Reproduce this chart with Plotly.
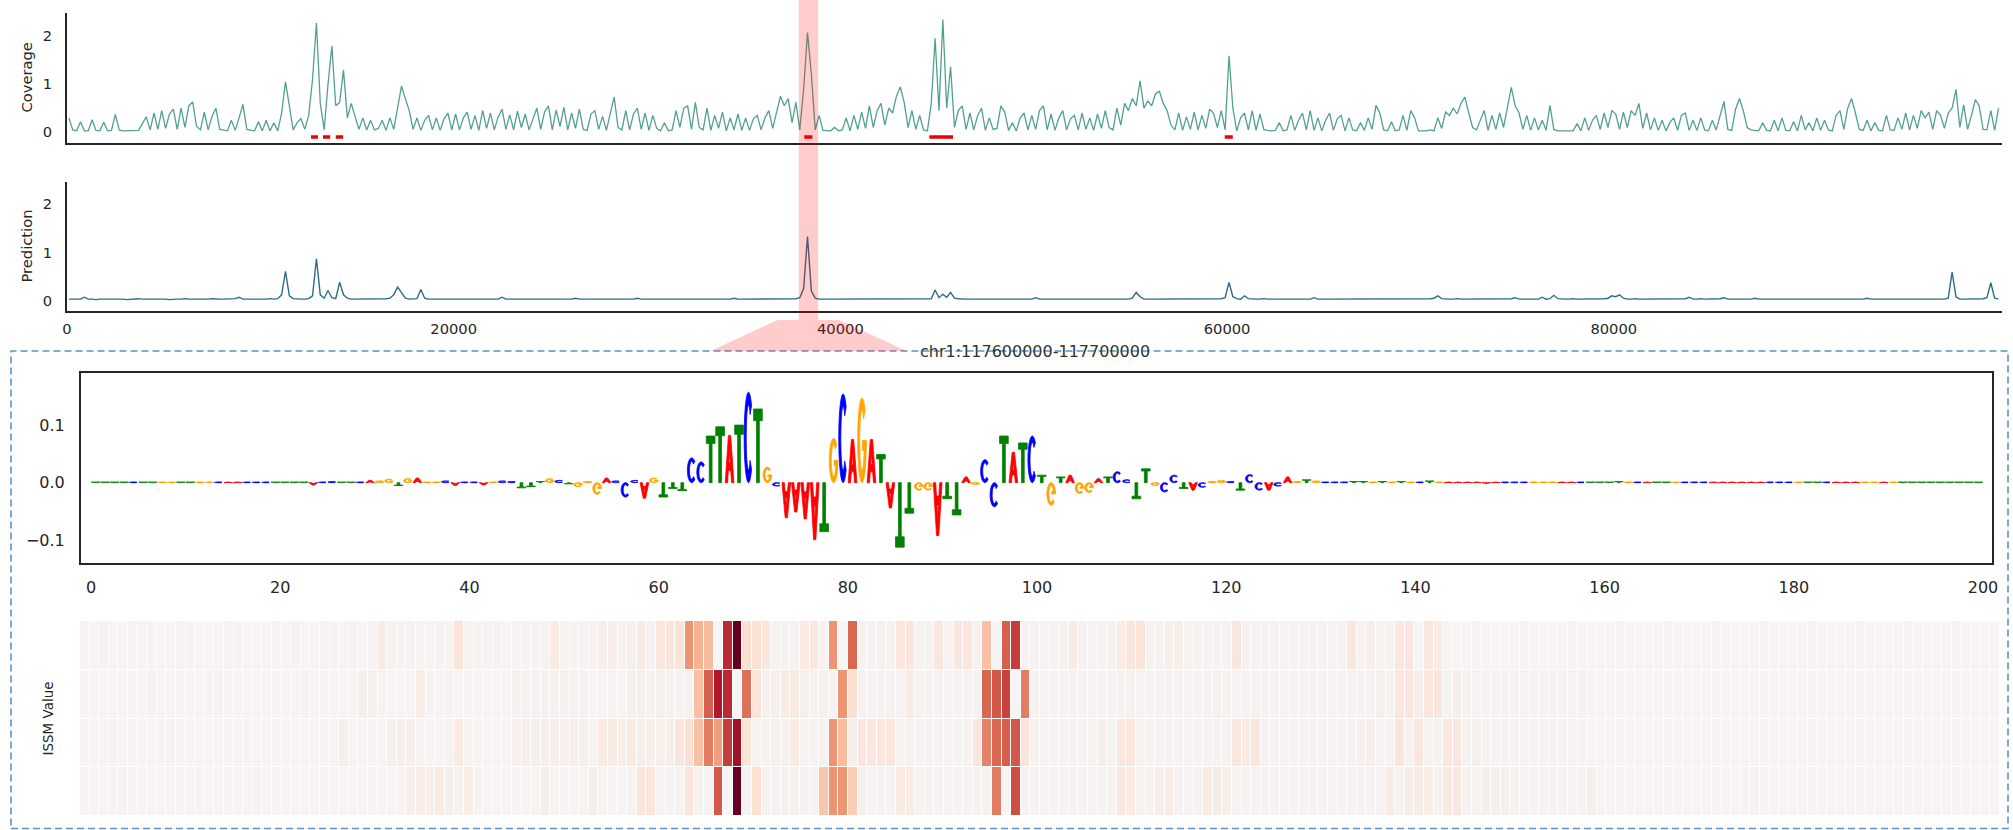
import numpy as np
import plotly.graph_objects as go

W, H = 2013, 830
FONT = "DejaVu Sans"
INK = "#262626"

# ---------------- data: genome tracks (200 bp bins over 100 kb) ----------------
BIN = 200
COVERAGE = [
    0.30,0.05,0.03,0.22,0.03,0.03,0.26,0.04,0.03,0.21,0.03,0.04,0.37,0.05,0.03,0.03,0.03,0.03,0.04,0.18,
    0.32,0.05,0.40,0.06,0.45,0.08,0.38,0.48,0.06,0.50,0.10,0.55,0.63,0.12,0.05,0.42,0.05,0.33,0.50,0.06,
    0.05,0.03,0.25,0.04,0.30,0.58,0.06,0.04,0.03,0.22,0.03,0.25,0.03,0.20,0.03,0.40,1.05,0.55,0.05,0.20,
    0.28,0.06,0.35,1.10,2.27,0.60,0.05,1.00,1.79,0.55,0.62,1.29,0.30,0.60,0.35,0.06,0.30,0.05,0.25,0.05,
    0.08,0.25,0.04,0.30,0.06,0.55,0.96,0.70,0.45,0.06,0.30,0.04,0.25,0.35,0.05,0.30,0.04,0.28,0.40,0.05,
    0.38,0.05,0.30,0.42,0.06,0.35,0.04,0.45,0.08,0.40,0.05,0.32,0.48,0.06,0.36,0.05,0.44,0.10,0.38,0.05,
    0.30,0.50,0.06,0.42,0.55,0.05,0.46,0.12,0.52,0.05,0.40,0.08,0.48,0.06,0.04,0.38,0.45,0.06,0.33,0.04,
    0.40,0.73,0.10,0.05,0.45,0.05,0.38,0.50,0.06,0.40,0.04,0.35,0.08,0.03,0.20,0.03,0.05,0.45,0.10,0.50,
    0.55,0.06,0.62,0.10,0.05,0.50,0.04,0.35,0.08,0.42,0.03,0.30,0.05,0.38,0.04,0.30,0.04,0.28,0.35,0.05,
    0.30,0.45,0.08,0.40,0.75,0.55,0.70,0.20,0.62,0.05,0.90,2.07,1.20,0.05,0.35,0.04,0.03,0.03,0.10,0.03,
    0.05,0.30,0.03,0.35,0.06,0.42,0.08,0.55,0.10,0.45,0.60,0.15,0.50,0.40,0.75,0.94,0.62,0.10,0.45,0.06,
    0.35,0.05,0.03,0.60,1.95,0.45,2.34,0.50,1.36,0.10,0.45,0.55,0.06,0.40,0.05,0.35,0.50,0.04,0.30,0.06,
    0.08,0.55,0.42,0.04,0.20,0.03,0.30,0.40,0.05,0.35,0.06,0.45,0.55,0.05,0.38,0.04,0.30,0.45,0.05,0.28,
    0.35,0.05,0.40,0.06,0.30,0.04,0.38,0.08,0.45,0.10,0.05,0.50,0.15,0.60,0.45,0.70,0.55,1.07,0.50,0.65,
    0.55,0.80,0.85,0.60,0.45,0.15,0.05,0.40,0.04,0.32,0.06,0.42,0.05,0.35,0.08,0.48,0.40,0.10,0.45,0.05,
    1.59,0.50,0.03,0.30,0.40,0.05,0.45,0.04,0.38,0.06,0.04,0.03,0.04,0.20,0.03,0.05,0.35,0.04,0.25,0.40,
    0.05,0.45,0.04,0.30,0.03,0.25,0.40,0.04,0.28,0.35,0.03,0.30,0.05,0.03,0.20,0.04,0.30,0.06,0.56,0.40,
    0.05,0.03,0.22,0.03,0.05,0.35,0.04,0.45,0.30,0.03,0.03,0.03,0.05,0.03,0.30,0.08,0.42,0.35,0.50,0.38,
    0.60,0.73,0.40,0.10,0.05,0.25,0.45,0.04,0.35,0.06,0.40,0.10,0.50,0.93,0.55,0.40,0.06,0.35,0.04,0.30,
    0.05,0.25,0.04,0.56,0.06,0.03,0.03,0.03,0.03,0.03,0.18,0.03,0.30,0.04,0.25,0.35,0.06,0.40,0.10,0.45,
    0.38,0.06,0.42,0.10,0.45,0.35,0.60,0.08,0.40,0.05,0.30,0.04,0.25,0.03,0.20,0.30,0.04,0.35,0.40,0.04,
    0.25,0.04,0.30,0.05,0.03,0.25,0.05,0.35,0.64,0.06,0.04,0.48,0.70,0.45,0.10,0.05,0.04,0.03,0.20,0.04,
    0.03,0.25,0.03,0.30,0.04,0.03,0.22,0.03,0.35,0.05,0.20,0.03,0.30,0.04,0.25,0.05,0.03,0.35,0.45,0.06,
    0.50,0.70,0.40,0.06,0.04,0.25,0.03,0.20,0.04,0.03,0.35,0.05,0.04,0.30,0.06,0.40,0.05,0.35,0.08,0.45,
    0.30,0.42,0.06,0.45,0.35,0.08,0.40,0.50,0.89,0.10,0.57,0.06,0.35,0.68,0.55,0.06,0.05,0.45,0.04,0.50,
]
PREDICTION = [
    0.03,0.03,0.04,0.03,0.07,0.03,0.03,0.02,0.03,0.03,0.03,0.04,0.03,0.03,0.03,0.02,0.03,0.03,0.04,0.03,
    0.03,0.03,0.03,0.04,0.03,0.03,0.02,0.03,0.03,0.03,0.04,0.03,0.03,0.03,0.02,0.03,0.03,0.04,0.03,0.03,
    0.03,0.03,0.03,0.04,0.07,0.03,0.03,0.03,0.02,0.03,0.03,0.03,0.04,0.03,0.04,0.12,0.61,0.10,0.04,0.03,
    0.03,0.03,0.04,0.10,0.87,0.12,0.05,0.21,0.06,0.04,0.38,0.12,0.05,0.03,0.03,0.03,0.03,0.04,0.03,0.03,
    0.03,0.03,0.04,0.05,0.12,0.28,0.15,0.05,0.03,0.03,0.04,0.23,0.05,0.03,0.03,0.03,0.03,0.04,0.03,0.03,
    0.03,0.03,0.03,0.04,0.03,0.03,0.03,0.03,0.04,0.03,0.03,0.03,0.07,0.03,0.03,0.03,0.04,0.03,0.03,0.03,
    0.03,0.03,0.04,0.03,0.03,0.03,0.03,0.03,0.04,0.03,0.03,0.05,0.03,0.03,0.03,0.03,0.03,0.04,0.03,0.03,
    0.03,0.03,0.03,0.04,0.03,0.03,0.03,0.05,0.03,0.03,0.03,0.03,0.04,0.03,0.03,0.03,0.03,0.03,0.04,0.03,
    0.03,0.03,0.04,0.03,0.03,0.03,0.03,0.03,0.04,0.03,0.03,0.03,0.05,0.03,0.03,0.03,0.04,0.03,0.03,0.03,
    0.03,0.04,0.03,0.03,0.03,0.04,0.03,0.03,0.04,0.06,0.25,1.33,0.20,0.05,0.03,0.03,0.03,0.03,0.03,0.04,
    0.03,0.03,0.03,0.04,0.03,0.03,0.03,0.03,0.04,0.03,0.03,0.03,0.03,0.04,0.03,0.03,0.03,0.04,0.03,0.03,
    0.03,0.03,0.03,0.04,0.22,0.06,0.13,0.07,0.17,0.05,0.04,0.03,0.03,0.03,0.03,0.04,0.03,0.03,0.03,0.03,
    0.03,0.03,0.04,0.03,0.03,0.03,0.03,0.03,0.04,0.03,0.06,0.03,0.03,0.03,0.04,0.03,0.03,0.03,0.03,0.03,
    0.03,0.03,0.04,0.03,0.03,0.03,0.03,0.03,0.04,0.03,0.03,0.03,0.03,0.04,0.03,0.05,0.17,0.08,0.03,0.03,
    0.03,0.03,0.03,0.04,0.03,0.03,0.03,0.03,0.03,0.04,0.03,0.03,0.03,0.03,0.04,0.03,0.03,0.03,0.04,0.06,
    0.38,0.08,0.04,0.03,0.10,0.04,0.03,0.03,0.03,0.04,0.03,0.03,0.03,0.03,0.04,0.03,0.03,0.03,0.03,0.04,
    0.03,0.03,0.06,0.03,0.03,0.03,0.04,0.03,0.03,0.03,0.03,0.04,0.03,0.03,0.03,0.03,0.04,0.03,0.03,0.03,
    0.03,0.04,0.03,0.03,0.03,0.03,0.04,0.03,0.03,0.03,0.03,0.03,0.04,0.05,0.10,0.04,0.03,0.03,0.03,0.04,
    0.03,0.03,0.03,0.04,0.03,0.03,0.03,0.03,0.04,0.03,0.03,0.03,0.03,0.04,0.06,0.03,0.03,0.03,0.04,0.03,
    0.03,0.07,0.03,0.04,0.11,0.04,0.03,0.03,0.03,0.04,0.03,0.03,0.03,0.03,0.04,0.03,0.03,0.04,0.05,0.10,
    0.08,0.12,0.05,0.03,0.03,0.04,0.03,0.03,0.03,0.03,0.04,0.03,0.03,0.03,0.03,0.04,0.03,0.03,0.04,0.07,
    0.03,0.03,0.04,0.03,0.03,0.03,0.03,0.04,0.06,0.03,0.03,0.03,0.04,0.03,0.03,0.03,0.05,0.03,0.03,0.03,
    0.04,0.03,0.03,0.03,0.03,0.04,0.03,0.03,0.03,0.03,0.03,0.04,0.03,0.03,0.03,0.03,0.04,0.03,0.03,0.03,
    0.03,0.03,0.04,0.03,0.03,0.05,0.03,0.03,0.03,0.04,0.03,0.03,0.03,0.03,0.03,0.04,0.03,0.03,0.03,0.03,
    0.03,0.03,0.04,0.03,0.03,0.03,0.05,0.59,0.08,0.03,0.03,0.03,0.04,0.03,0.03,0.04,0.06,0.37,0.05,0.03,
]
PEAK_STARTS = [12620, 13240, 13900, 38135, 44600, 59880]
PEAK_ENDS = [12980, 13610, 14280, 38550, 45825, 60295]
PEAK_Y = -0.1
HIGHLIGHT = [37850, 38850]
REGION_LABEL = "chr1:117600000-117700000"
TOP_XTICKS = [0, 20000, 40000, 60000, 80000]
TOP_YTICKS = [0, 1, 2]

# ---------------- data: attribution logo (200 bp) ----------------
SEQ = ("TTTTCTTGGTTGGCAACCCTTTTACCTTCAGGTGAGGCACCAGCCTTTGCTGGGACCCAGTTTCCTTATCTGCAAAATGCAGATATTGGATTAGCCTATCTGTAGGATCCTTGCCTACGGCTCCACAGTGCCCTTGTGTGCTGAAAAAACCCGGGAACTTTTGCATTGCCCAAAAAACCCGTTCAAAGGAGTTTTTTTTT")
ATTR = [
    0.001,0.001,0.001,0.001,0.001,0.001,0.001,0.001,0.001,0.001,0.001,0.001,0.001,0.001,0.001,0.001,0.001,0.001,0.001,0.001,
    0.001,0.001,0.001,-0.004,0.001,0.002,0.001,0.001,0.001,0.004,0.003,0.006,-0.005,0.007,0.008,0.001,0.001,0.003,-0.005,0.001,
    0.001,-0.004,0.001,0.003,0.002,-0.009,-0.007,0.002,0.007,0.004,-0.002,-0.007,0.002,-0.020,0.008,0.003,-0.025,0.004,-0.027,0.008,
    -0.025,-0.010,-0.014,0.043,0.036,0.081,0.097,0.082,0.100,0.157,0.128,0.027,-0.006,-0.061,-0.051,-0.063,-0.099,-0.085,0.077,0.154,
    0.075,0.147,0.075,0.049,-0.044,-0.112,-0.053,-0.013,-0.013,-0.092,-0.028,-0.056,0.010,-0.003,0.040,-0.042,0.081,0.053,0.069,0.081,
    0.013,-0.039,0.010,0.013,-0.019,-0.017,0.007,0.010,0.019,0.005,-0.028,0.024,-0.005,-0.016,0.013,-0.010,-0.013,-0.008,0.002,0.004,
    0.002,-0.013,0.014,-0.013,-0.013,-0.006,0.010,0.002,0.005,0.003,0.001,0.001,0.001,0.002,0.002,0.001,0.002,0.001,0.002,0.001,
    0.001,0.003,0.001,0.001,0.001,0.001,0.001,-0.001,0.001,0.001,0.001,0.001,0.001,0.001,0.001,0.001,0.001,0.001,0.001,0.001,
    0.001,0.002,0.001,0.001,0.001,0.001,0.001,0.001,0.001,0.001,0.001,0.001,0.001,0.001,0.001,0.001,0.001,0.001,0.001,0.001,
    0.001,0.001,0.001,0.001,0.001,0.001,0.001,0.001,0.001,0.001,0.001,0.001,0.001,0.001,0.001,0.001,0.001,0.001,0.001,0.001,
]
LOGO_XTICKS = [0, 20, 40, 60, 80, 100, 120, 140, 160, 180, 200]
LOGO_YTICKS = [-0.1, 0.0, 0.1]
LOGO_YTICKTEXT = ["\u22120.1", "0.0", "0.1"]
BASE_COLORS = {"A": "#ff0000", "C": "#0000ff", "G": "#ffa500", "T": "#008000"}

# ---------------- data: ISSM heatmap (4 rows x 200 positions) ----------------
ISSM_ROW1 = [
    0.02,0.02,0.03,0.02,0.02,0.02,0.03,0.02,0.02,0.02,0.03,0.02,0.02,0.02,0.02,0.03,0.02,0.02,0.02,0.02,
    0.02,0.02,0.03,0.02,0.02,0.03,0.02,0.02,0.03,0.02,0.03,0.08,0.03,0.02,0.03,0.02,0.03,0.03,0.02,0.12,
    0.03,0.02,0.03,0.03,0.02,0.03,0.03,0.02,0.03,0.08,0.03,0.02,0.03,0.03,0.06,0.06,0.04,0.05,0.08,0.03,
    0.10,0.10,0.12,0.45,0.35,0.32,0.00,0.75,1.00,0.15,0.14,0.10,0.03,0.03,0.03,0.08,0.10,0.04,0.45,0.00,
    0.58,0.03,0.03,0.05,0.03,0.10,0.10,0.03,0.03,0.10,0.03,0.10,0.10,0.04,0.30,0.00,0.60,0.70,0.03,0.03,
    0.03,0.03,0.03,0.08,0.03,0.03,0.03,0.03,0.08,0.10,0.12,0.03,0.03,0.06,0.06,0.03,0.03,0.03,0.03,0.03,
    0.10,0.03,0.03,0.03,0.03,0.03,0.03,0.03,0.03,0.03,0.03,0.03,0.10,0.03,0.06,0.03,0.03,0.10,0.10,0.00,
    0.10,0.08,0.02,0.02,0.02,0.02,0.02,0.02,0.02,0.02,0.02,0.02,0.02,0.02,0.02,0.02,0.02,0.02,0.02,0.02,
    0.02,0.02,0.02,0.02,0.02,0.02,0.02,0.02,0.02,0.02,0.02,0.02,0.02,0.02,0.02,0.02,0.02,0.02,0.02,0.02,
    0.02,0.02,0.02,0.02,0.02,0.02,0.02,0.02,0.02,0.02,0.02,0.02,0.02,0.02,0.02,0.02,0.02,0.02,0.02,0.02,
]
ISSM_ROW2 = [
    0.02,0.02,0.02,0.02,0.02,0.02,0.02,0.03,0.02,0.02,0.02,0.02,0.02,0.02,0.03,0.02,0.02,0.02,0.02,0.02,
    0.02,0.02,0.02,0.04,0.02,0.02,0.02,0.02,0.02,0.05,0.05,0.02,0.02,0.02,0.02,0.07,0.02,0.02,0.04,0.02,
    0.02,0.02,0.02,0.02,0.02,0.04,0.04,0.04,0.04,0.04,0.04,0.04,0.04,0.02,0.02,0.02,0.02,0.05,0.05,0.03,
    0.05,0.03,0.02,0.03,0.30,0.60,0.80,0.75,0.00,0.55,0.12,0.04,0.05,0.08,0.08,0.05,0.03,0.05,0.03,0.45,
    0.15,0.03,0.03,0.03,0.03,0.03,0.08,0.03,0.03,0.03,0.03,0.03,0.03,0.03,0.58,0.62,0.68,0.00,0.52,0.03,
    0.03,0.03,0.03,0.03,0.03,0.03,0.03,0.03,0.03,0.03,0.03,0.03,0.03,0.03,0.03,0.03,0.03,0.03,0.05,0.03,
    0.03,0.03,0.03,0.03,0.03,0.03,0.03,0.03,0.03,0.03,0.03,0.03,0.03,0.03,0.03,0.05,0.03,0.10,0.10,0.06,
    0.10,0.10,0.03,0.06,0.03,0.03,0.03,0.03,0.03,0.03,0.03,0.03,0.03,0.03,0.03,0.03,0.04,0.02,0.02,0.02,
    0.02,0.02,0.02,0.02,0.02,0.02,0.02,0.02,0.02,0.02,0.02,0.02,0.02,0.02,0.02,0.02,0.02,0.02,0.02,0.02,
    0.02,0.02,0.02,0.02,0.02,0.02,0.02,0.02,0.02,0.02,0.02,0.02,0.02,0.02,0.02,0.02,0.02,0.02,0.02,0.02,
]
ISSM_ROW3 = [
    0.02,0.02,0.02,0.03,0.02,0.02,0.02,0.02,0.02,0.03,0.02,0.02,0.02,0.02,0.02,0.02,0.03,0.02,0.02,0.02,
    0.02,0.02,0.02,0.02,0.02,0.02,0.03,0.06,0.02,0.02,0.02,0.02,0.05,0.05,0.05,0.02,0.02,0.02,0.03,0.08,
    0.02,0.02,0.02,0.02,0.02,0.05,0.05,0.05,0.05,0.05,0.05,0.05,0.05,0.02,0.08,0.08,0.06,0.08,0.06,0.05,
    0.05,0.06,0.10,0.15,0.30,0.52,0.42,0.70,0.85,0.12,0.03,0.03,0.05,0.04,0.08,0.03,0.03,0.04,0.45,0.32,
    0.05,0.10,0.10,0.10,0.10,0.03,0.03,0.03,0.03,0.03,0.03,0.03,0.03,0.10,0.50,0.58,0.60,0.62,0.12,0.03,
    0.03,0.03,0.03,0.03,0.03,0.03,0.06,0.03,0.10,0.10,0.03,0.03,0.03,0.03,0.03,0.03,0.03,0.03,0.03,0.03,
    0.10,0.08,0.10,0.03,0.03,0.03,0.03,0.03,0.03,0.03,0.03,0.03,0.03,0.05,0.05,0.03,0.03,0.12,0.03,0.10,
    0.03,0.03,0.10,0.10,0.03,0.05,0.03,0.03,0.03,0.03,0.03,0.03,0.03,0.03,0.03,0.03,0.02,0.02,0.02,0.02,
    0.02,0.02,0.02,0.02,0.02,0.02,0.02,0.02,0.02,0.02,0.02,0.02,0.02,0.02,0.02,0.02,0.02,0.02,0.02,0.02,
    0.02,0.02,0.02,0.02,0.02,0.02,0.02,0.02,0.02,0.02,0.02,0.02,0.02,0.02,0.02,0.02,0.02,0.02,0.02,0.02,
]
ISSM_ROW4 = [
    0.02,0.02,0.02,0.02,0.03,0.02,0.02,0.02,0.02,0.02,0.02,0.03,0.02,0.02,0.02,0.02,0.02,0.02,0.03,0.02,
    0.02,0.02,0.02,0.02,0.02,0.02,0.02,0.02,0.02,0.02,0.02,0.02,0.02,0.02,0.06,0.07,0.06,0.08,0.06,0.03,
    0.07,0.02,0.02,0.02,0.02,0.02,0.02,0.02,0.06,0.02,0.02,0.02,0.02,0.06,0.02,0.02,0.03,0.03,0.12,0.10,
    0.03,0.03,0.03,0.12,0.03,0.03,0.62,0.00,1.00,0.03,0.15,0.04,0.04,0.04,0.04,0.04,0.03,0.28,0.45,0.45,
    0.25,0.05,0.03,0.03,0.03,0.08,0.08,0.03,0.03,0.03,0.03,0.03,0.03,0.03,0.03,0.52,0.00,0.65,0.03,0.03,
    0.03,0.03,0.03,0.03,0.03,0.03,0.03,0.03,0.10,0.08,0.03,0.03,0.07,0.07,0.03,0.03,0.03,0.08,0.08,0.06,
    0.03,0.03,0.03,0.03,0.03,0.03,0.03,0.03,0.03,0.03,0.03,0.03,0.03,0.03,0.03,0.03,0.08,0.03,0.07,0.07,
    0.07,0.03,0.08,0.10,0.03,0.03,0.05,0.05,0.05,0.03,0.03,0.03,0.03,0.03,0.03,0.03,0.03,0.06,0.02,0.02,
    0.02,0.02,0.02,0.02,0.02,0.02,0.02,0.02,0.02,0.02,0.02,0.02,0.02,0.02,0.03,0.02,0.02,0.02,0.02,0.02,
    0.02,0.02,0.02,0.02,0.02,0.02,0.02,0.02,0.02,0.02,0.02,0.02,0.02,0.02,0.02,0.02,0.02,0.02,0.02,0.02,
]

# ---------------- helpers ----------------
def fx(px):
    return px / W

def fy(py):
    return 1 - py / H

def arc(cx, cy, rx, ry, a0, a1, n=36):
    t = np.radians(np.linspace(a0, a1, n))
    return list(zip(cx + rx * np.cos(t), cy + ry * np.sin(t)))

# letter outlines in a unit box (glyph geometry, not data)
GLYPHS = {
    "T": [[(0, 1), (1, 1), (1, 0.84), (0.66, 0.84), (0.66, 0), (0.34, 0), (0.34, 0.84), (0, 0.84)]],
    "A": [[(0, 0), (0.37, 1), (0.63, 1), (1, 0), (0.73, 0), (0.64, 0.25), (0.36, 0.25), (0.27, 0)],
          [(0.42, 0.42), (0.5, 0.72), (0.58, 0.42)]],
    "C": [arc(0.5, 0.5, 0.5, 0.5, 45, 315) + arc(0.5, 0.5, 0.26, 0.36, 315, 45)],
    "G": [arc(0.5, 0.5, 0.5, 0.5, 45, 350) + [(1.0, 0.5), (0.55, 0.5), (0.55, 0.38), (0.76, 0.38)]
          + arc(0.5, 0.5, 0.26, 0.36, 330, 45)],
}
LETTER_W = 0.92

fig = go.Figure()

# coverage track
cov_x = np.arange(len(COVERAGE)) * BIN + BIN / 2
fig.add_trace(go.Scatter(x=cov_x, y=COVERAGE, mode="lines",
                         line=dict(color="#52a08f", width=1.3), xaxis="x", yaxis="y",
                         hoverinfo="skip", showlegend=False))
# peak calls
px_, py_ = [], []
for s, e in zip(PEAK_STARTS, PEAK_ENDS):
    px_ += [s, e, None]
    py_ += [PEAK_Y, PEAK_Y, None]
fig.add_trace(go.Scatter(x=px_, y=py_, mode="lines", line=dict(color="#ee0000", width=3.5),
                         xaxis="x", yaxis="y", hoverinfo="skip", showlegend=False))
# prediction track
pred_x = np.arange(len(PREDICTION)) * BIN + BIN / 2
fig.add_trace(go.Scatter(x=pred_x, y=PREDICTION, mode="lines",
                         line=dict(color="#2c6d86", width=1.4), xaxis="x2", yaxis="y2",
                         hoverinfo="skip", showlegend=False))

# ISSM heatmap
issm = [ISSM_ROW1, ISSM_ROW2, ISSM_ROW3, ISSM_ROW4]
fig.add_trace(go.Heatmap(
    z=issm, x=list(range(len(ISSM_ROW1))), y=[0, 1, 2, 3], xaxis="x4", yaxis="y4",
    zmin=0, zmax=1, showscale=False, xgap=1, ygap=1, hoverinfo="skip",
    colorscale=[[0, "#f6f5f5"], [0.04, "#f6f1ef"], [0.1, "#fae6dc"], [0.2, "#fddbc7"],
                [0.4, "#f4a582"], [0.6, "#d6604d"], [0.8, "#b2182b"], [1, "#67001f"]]))

shapes = []
# logo letters drawn in data coordinates of the logo axes
for i, (b, v) in enumerate(zip(SEQ, ATTR)):
    left = i + 0.5 - LETTER_W / 2
    parts = []
    for poly in GLYPHS[b]:
        pts = ["%.4f,%.5f" % (left + gx * LETTER_W, gy * v) for gx, gy in poly]
        parts.append("M " + " L ".join(pts) + " Z")
    shapes.append(dict(type="path", path=" ".join(parts), xref="x3", yref="y3",
                       fillcolor=BASE_COLORS[b], fillrule="evenodd",
                       line=dict(color=BASE_COLORS[b], width=0.8), layer="above"))

# highlighted window on the genome tracks
band_bottom = fy(320)
shapes.append(dict(type="rect", xref="x", yref="paper", x0=HIGHLIGHT[0], x1=HIGHLIGHT[1],
                   y0=band_bottom, y1=1, fillcolor="rgba(255,0,0,0.2)", line=dict(width=0),
                   layer="above"))
# connector trapezoid (paper coordinates, centred on the band)
x_dom0, x_dom1 = 67, 2002
x_rng = [0, 100080]
cpx = x_dom0 + (np.mean(HIGHLIGHT) - x_rng[0]) / (x_rng[1] - x_rng[0]) * (x_dom1 - x_dom0)
trap = [(cpx - 31, 320), (cpx + 31, 320), (cpx + 98, 351), (cpx - 98, 351)]
shapes.append(dict(type="path", xref="paper", yref="paper",
                   path="M " + " L ".join("%.5f,%.5f" % (fx(a), fy(b)) for a, b in trap) + " Z",
                   fillcolor="rgba(255,0,0,0.2)", line=dict(width=0), layer="above"))
# dashed frame around the zoom panels
shapes.append(dict(type="rect", xref="paper", yref="paper", x0=fx(11), x1=fx(2008),
                   y0=fy(828.5), y1=fy(351), line=dict(color="#5a93c4", width=1.6, dash="7px,4px"),
                   fillcolor="rgba(0,0,0,0)", layer="below"))

tick_font_top = dict(family=FONT, size=14.7, color=INK)
tick_font_logo = dict(family=FONT, size=16, color=INK)

common_top_x = dict(domain=[fx(x_dom0), fx(x_dom1)], range=x_rng, showgrid=False, zeroline=False,
                    showline=True, linecolor=INK, linewidth=1.8, ticks="", automargin=False)
common_top_y = dict(range=[-0.216, 2.47], tickvals=TOP_YTICKS, showgrid=False, zeroline=False,
                    showline=True, linecolor=INK, linewidth=1.8, ticks="", tickfont=tick_font_top,
                    ticklabelstandoff=10, automargin=False)

annotations = [
    dict(text="Coverage", x=fx(25.5), y=fy(78), xref="paper", yref="paper", textangle=-90,
         showarrow=False, font=dict(family=FONT, size=14.7, color=INK), xanchor="center", yanchor="middle"),
    dict(text="Prediction", x=fx(25.5), y=fy(246), xref="paper", yref="paper", textangle=-90,
         showarrow=False, font=dict(family=FONT, size=14.7, color=INK), xanchor="center", yanchor="middle"),
    dict(text="ISSM Value", x=fx(47), y=fy(718.5), xref="paper", yref="paper", textangle=-90,
         showarrow=False, font=dict(family=FONT, size=13.5, color=INK), xanchor="center", yanchor="middle"),
    dict(text=REGION_LABEL, x=fx(1035), y=fy(351.5), xref="paper", yref="paper",
         showarrow=False, font=dict(family=FONT, size=16, color="#333333"), xanchor="center", yanchor="middle"),
]

fig.update_layout(
    width=W, height=H, margin=dict(l=0, r=0, t=0, b=0),
    paper_bgcolor="white", plot_bgcolor="white", showlegend=False,
    font=dict(family=FONT, color=INK),
    xaxis=dict(**common_top_x, anchor="y", showticklabels=False),
    yaxis=dict(**common_top_y, domain=[fy(142.7), fy(13.3)], anchor="x"),
    xaxis2=dict(**common_top_x, anchor="y2", tickvals=TOP_XTICKS,
                ticktext=[str(t) for t in TOP_XTICKS], tickfont=tick_font_top, ticklabelstandoff=3),
    yaxis2=dict(**common_top_y, domain=[fy(311), fy(181.7)], anchor="x2"),
    xaxis3=dict(domain=[fx(81), fx(1992)], range=[-1.06, 200.95], anchor="y3",
                showgrid=False, zeroline=False, showline=True, mirror=True, linecolor=INK, linewidth=2,
                ticks="", tickvals=LOGO_XTICKS, ticktext=[str(t) for t in LOGO_XTICKS],
                tickfont=tick_font_logo, ticklabelstandoff=9, automargin=False),
    yaxis3=dict(domain=[fy(562.7), fy(372.7)], range=[-0.139, 0.191], anchor="x3",
                showgrid=False, zeroline=False, showline=True, mirror=True, linecolor=INK, linewidth=2,
                ticks="", tickvals=LOGO_YTICKS, ticktext=LOGO_YTICKTEXT, tickfont=tick_font_logo,
                ticklabelstandoff=11, automargin=False),
    xaxis4=dict(domain=[fx(80), fx(2000)], range=[-0.5, 199.5], anchor="y4", visible=False),
    yaxis4=dict(domain=[fy(816), fy(621)], range=[3.5, -0.5], anchor="x4", visible=False),
    shapes=shapes,
    annotations=annotations,
)

fig.write_html("out.html")
